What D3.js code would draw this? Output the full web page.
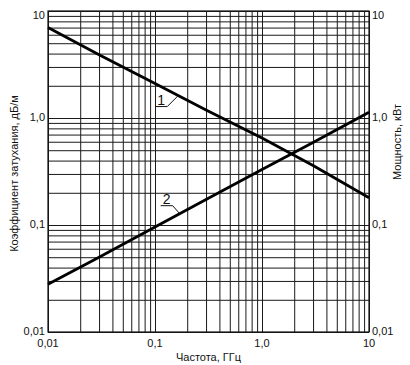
<!DOCTYPE html>
<html><head><meta charset="utf-8">
<script src="https://cdn.jsdelivr.net/npm/d3@7"></script>
<style>body{margin:0;background:#fff}svg{display:block}text{font-family:"Liberation Sans",Arial,sans-serif;fill:#111}</style>
</head><body><svg id="c" width="410" height="365"></svg>
<script>
const freqs = [0.01, 0.03, 0.1, 0.3, 1, 3, 10];
const attenuation = [7.0, 3.9, 2.1, 1.19, 0.65, 0.36, 0.18];
const power = [0.028, 0.050, 0.096, 0.173, 0.33, 0.59, 1.13];
const xTicks = [0.01, 0.1, 1, 10];
const xTickLabels = ["0,01", "0,1", "1,0", "10"];
const yTicks = [0.01, 0.1, 1, 10];
const yTickLabels = ["0,01", "0,1", "1,0", "10"];
const curveNames = ["1", "2"];
const labelFreqs = [0.165, 0.17];

const svg = d3.select("#c");
const L = 48, R = 369, T = 11, B = 332;
const x = d3.scaleLog().domain([0.01, 10]).range([L, R]);
const y = d3.scaleLog().domain([0.01, 10]).range([B, T]);

// grid
const g = svg.append("g");
g.append("g").attr("transform", `translate(0,${B})`)
  .call(d3.axisBottom(x).ticks(10).tickSize(-(B - T)).tickFormat(""))
  .call(a => { a.select(".domain").remove(); a.selectAll("line").attr("stroke", "#1a1a1a").attr("stroke-width", 1); });
g.append("g").attr("transform", `translate(${L},0)`)
  .call(d3.axisLeft(y).ticks(10).tickSize(-(R - L)).tickFormat(""))
  .call(a => { a.select(".domain").remove(); a.selectAll("line").attr("stroke", "#1a1a1a").attr("stroke-width", 1); });
svg.append("rect").attr("x", L).attr("y", T).attr("width", R - L).attr("height", B - T)
  .attr("fill", "none").attr("stroke", "#111").attr("stroke-width", 1.2);

// tick labels
const fs = 11;
svg.selectAll(".xl").data(xTicks).join("text")
  .attr("x", d => x(d)).attr("y", B + 15).attr("text-anchor", "middle").attr("font-size", fs)
  .text((d, i) => xTickLabels[i]);
svg.selectAll(".yl").data(yTicks).join("text")
  .attr("x", L - 3).attr("y", (d, i) => y(d) + (d === 10 ? 8 : 3)).attr("text-anchor", "end").attr("font-size", fs)
  .text((d, i) => yTickLabels[i]);
svg.selectAll(".yr").data(yTicks).join("text")
  .attr("x", R + 3).attr("y", (d, i) => y(d) + (d === 10 ? 8 : 3)).attr("text-anchor", "start").attr("font-size", fs)
  .text((d, i) => yTickLabels[i]);

// axis titles
svg.append("text").attr("x", (L + R) / 2).attr("y", 361).attr("text-anchor", "middle").attr("font-size", fs)
  .text("Частота, ГГц");
svg.append("text").attr("transform", `translate(18,${(T + B) / 2 + 2}) rotate(-90)`).attr("text-anchor", "middle").attr("font-size", fs)
  .text("Коэффициент затухания, дБ/м");
svg.append("text").attr("transform", `translate(401,142) rotate(-90)`).attr("text-anchor", "middle").attr("font-size", fs)
  .text("Мощность, кВт");

// curves
const series = [attenuation, power];
const line = d3.line().x(d => x(d[0])).y(d => y(d[1]));
series.forEach(s => {
  svg.append("path").datum(freqs.map((f, i) => [f, s[i]]))
    .attr("d", line).attr("fill", "none").attr("stroke", "#000").attr("stroke-width", 2.8)
    .attr("stroke-linejoin", "round");
});

// interpolate in log space
function interp(s, f) {
  const lf = Math.log10(f);
  for (let i = 0; i < freqs.length - 1; i++) {
    const a = Math.log10(freqs[i]), b = Math.log10(freqs[i + 1]);
    if (lf >= a && lf <= b) {
      const t = (lf - a) / (b - a);
      return Math.pow(10, Math.log10(s[i]) * (1 - t) + Math.log10(s[i + 1]) * t);
    }
  }
  return s[0];
}

// curve labels with leaders
const offsets = [[-21, 11], [-13, -8]];
series.forEach((s, k) => {
  const px = x(labelFreqs[k]), py = y(interp(s, labelFreqs[k]));
  const [ox, oy] = offsets[k];
  const ux = px + ox + (k === 0 ? 10 : 6), uy = py + oy;
  svg.append("path").attr("d", `M${ux - 12},${uy} L${ux},${uy} L${px},${py}`)
    .attr("fill", "none").attr("stroke", "#111").attr("stroke-width", 1);
  svg.append("text").attr("x", ux - 6).attr("y", uy - 1.5).attr("text-anchor", "middle")
    .attr("font-size", 14).text(curveNames[k]);
});
</script></body></html>
